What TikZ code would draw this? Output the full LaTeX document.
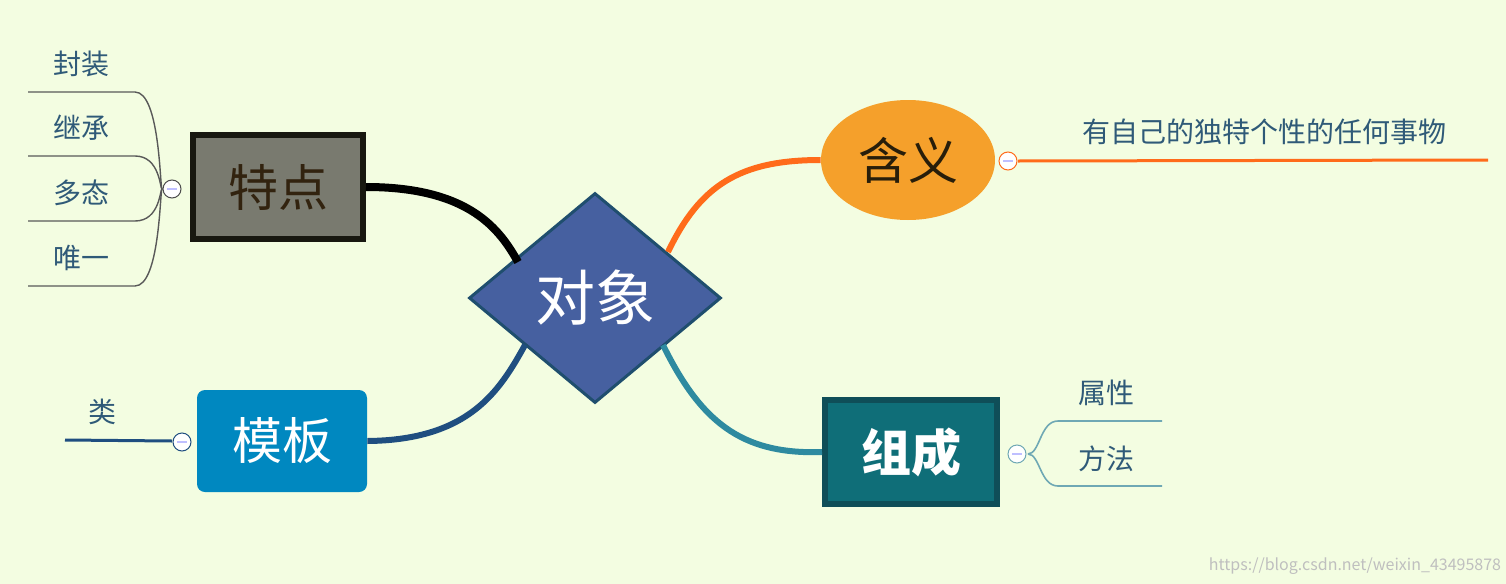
\documentclass[tikz,border=0pt]{standalone}
\usepackage{fontspec}
\setmainfont{Noto Sans CJK SC}
\usetikzlibrary{shapes.geometric}
\definecolor{bg}{HTML}{F3FDE1}
\definecolor{leaftxt}{HTML}{2F5A78}
\definecolor{cdia}{HTML}{4660A0}
\definecolor{cdiab}{HTML}{1F4E6E}
\definecolor{ctd}{HTML}{797A6F}
\definecolor{ctdb}{HTML}{181810}
\definecolor{ctdt}{HTML}{32230F}
\definecolor{chy}{HTML}{F5A02B}
\definecolor{chyt}{HTML}{281E0A}
\definecolor{czc}{HTML}{0F6E78}
\definecolor{czcb}{HTML}{0F4E58}
\definecolor{cmb}{HTML}{0088C0}
\definecolor{corg}{HTML}{FF6B1A}
\definecolor{cblu}{HTML}{1F4E80}
\definecolor{ctea}{HTML}{2E8AA0}
\definecolor{cteal}{HTML}{6FA8B4}
\begin{document}
\begin{tikzpicture}[x=0.5pt,y=-0.5pt,
  leaf/.style={text=leaftxt,font=\fontsize{14}{16}\selectfont},
  tog/.style={circle,draw=#1,fill=white,minimum size=9pt,inner sep=0pt,line width=0.5pt}]
\fill[bg] (0,0) rectangle (1506,584);
\useasboundingbox (0,0) rectangle (1506,584);
% center
\node[diamond,fill=cdia,draw=cdiab,line width=1.5pt,minimum width=126pt,minimum height=105pt,inner sep=0pt,text=white,font=\fontsize{30}{32}\selectfont] (obj) at (595,298) {对象};
% main nodes
\node[draw=ctdb,line width=3pt,fill=ctd,minimum width=85pt,minimum height=52pt,text=ctdt,font=\fontsize{25}{27}\selectfont] (td) at (278,187) {特点};
\node[ellipse,fill=chy,minimum width=87pt,minimum height=60pt,inner sep=0pt,text=chyt,font=\fontsize{25}{27}\selectfont] (hy) at (908,160) {含义};
\node[draw=czcb,line width=3pt,fill=czc,minimum width=86pt,minimum height=52pt,text=white,font=\bfseries\fontsize{25}{27}\selectfont] (zc) at (911,452) {组成};
\node[rounded corners=4pt,fill=cmb,minimum width=85pt,minimum height=51pt,text=white,font=\fontsize{25}{27}\selectfont] (mb) at (282,441) {模板};
% connectors
\coordinate (o1) at (518,262); \coordinate (o2) at (668,252);
\coordinate (o3) at (525,345); \coordinate (o4) at (663,345);
\draw[line width=4pt,black] (td.east) .. controls (470,187) and (500,230) .. (o1);
\draw[line width=3pt,corg] (o2) .. controls (700,185) and (740,160) .. (hy.west);
\draw[line width=3pt,cblu] (mb.east) .. controls (470,440) and (500,390) .. (o3);
\draw[line width=3pt,ctea] (o4) .. controls (700,420) and (740,455) .. (zc.west);
% left leaves
\coordinate (lj) at (162,189);
\foreach \y/\n in {92/a,156/b,221/c,286/d} {
  \coordinate (l\n) at (28,\y); \coordinate (m\n) at (135,\y);
  \draw[black!65,line width=0.7pt] (l\n) -- (m\n) .. controls (160,\y) and (160,189) .. (lj);
}
\node[leaf] (n1) at (82,64) {封装};
\node[leaf] (n2) at (82,128) {继承};
\node[leaf] (n3) at (82,193) {多态};
\node[leaf] (n4) at (82,258) {唯一};
% 类
\coordinate (la1) at (65,440); \coordinate (la2) at (172,441);
\draw[cblu,line width=1.5pt] (la1) -- (la2);
\node[leaf] (n5) at (102,412) {类};
% 含义 leaf
\coordinate (h1) at (1018,161); \coordinate (h2) at (1488,160);
\draw[corg,line width=1.5pt] (h1) -- (h2);
\node[leaf] (n6) at (1264,132) {有自己的独特个性的任何事物};
% 组成 leaves
\coordinate (zj) at (1028,454);
\foreach \y/\n in {421/a,486/b} {
  \coordinate (z\n) at (1162,\y); \coordinate (y\n) at (1058,\y);
  \draw[cteal,line width=0.8pt] (z\n) -- (y\n) .. controls (1040,\y) and (1040,454) .. (zj);
}
\node[leaf] (n7) at (1106,393) {属性};
\node[leaf] (n8) at (1106,459) {方法};
% toggles
\node[tog=black!70] (t1) at (172,189) {};
\node[tog=corg] (t2) at (1008,161) {};
\node[tog=cblu] (t3) at (182,442) {};
\node[tog=cteal] (t4) at (1017,454) {};
\foreach \t in {t1,t2,t3,t4} \draw[blue!25,line width=1pt] ([xshift=-2.5pt]\t.center) -- ([xshift=2.5pt]\t.center);
\node[text=black!25,font=\fontsize{8}{9}\selectfont] (wm) at (1355,566) {https://blog.csdn.net/weixin\_43495878};
\end{tikzpicture}
\end{document}
